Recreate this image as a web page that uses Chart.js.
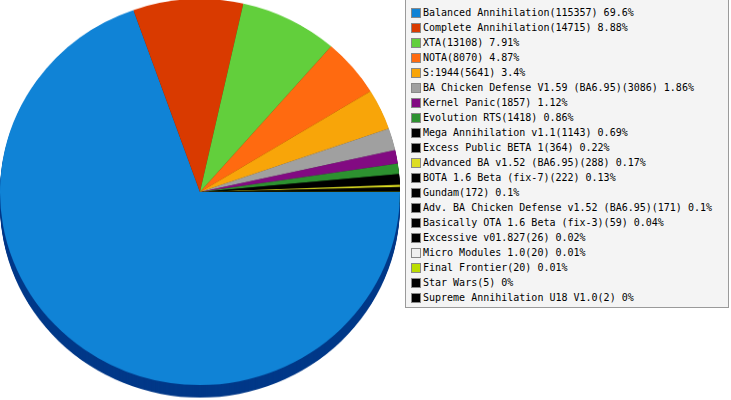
<!DOCTYPE html>
<html>
<head>
<meta charset="utf-8">
<script src="https://cdn.jsdelivr.net/npm/chart.js@4"></script>
<style>
  body { margin: 0; width: 731px; height: 400px; background: #fff; overflow: hidden; position: relative; }
  #pieWrap { position: absolute; left: 0; top: -1px; width: 400px; height: 414px; transform: scaleY(0.965); transform-origin: top center; }
  #legend { position: absolute; left: 405px; top: -1px; width: 324px; height: 309px; background: #f4f4f4; border: 1px solid #9a9a9a; box-sizing: border-box;
    font-family: "DejaVu Sans Mono", monospace; font-size: 10px; color: #000; padding-top: 5px; }
  .row { height: 15px; line-height: 15px; white-space: nowrap; position: relative; padding-left: 17px; }
  .sw { position: absolute; left: 5px; top: 3px; width: 8px; height: 8px; border: 1px solid #888; }
</style>
</head>
<body>
<div id="pieWrap"><canvas id="pie"></canvas></div>
<div id="legend"></div>
<script>
const mods = [
  "Balanced Annihilation", "Complete Annihilation", "XTA", "NOTA", "S:1944",
  "BA Chicken Defense V1.59 (BA6.95)", "Kernel Panic", "Evolution RTS",
  "Mega Annihilation v1.1", "Excess Public BETA 1", "Advanced BA v1.52 (BA6.95)",
  "BOTA 1.6 Beta (fix-7)", "Gundam", "Adv. BA Chicken Defense v1.52 (BA6.95)",
  "Basically OTA 1.6 Beta (fix-3)", "Excessive v01.827", "Micro Modules 1.0",
  "Final Frontier", "Star Wars", "Supreme Annihilation U18 V1.0"
];
const games = [115357, 14715, 13108, 8070, 5641, 3086, 1857, 1418, 1143, 364, 288, 222, 172, 171, 59, 26, 20, 20, 5, 2];
const colors = [
  "#1083d6", "#d93a00", "#62cf3c", "#ff6a10", "#f8a509", "#a0a0a0", "#820a82", "#2d9130",
  "#000000", "#000000", "#dddd22", "#000000", "#000000", "#000000", "#000000", "#000000",
  "#f0f0f0", "#bbdd00", "#000000", "#000000"
];

const total = games.reduce((a, b) => a + b, 0);

// Legend
const legend = document.getElementById("legend");
mods.forEach((name, i) => {
  const pct = Math.round(games[i] / total * 10000) / 100;
  const row = document.createElement("div");
  row.className = "row";
  row.innerHTML = `<span class="sw" style="background:${colors[i]}"></span>`;
  row.appendChild(document.createTextNode(`${name}(${games[i]}) ${pct}%`));
  legend.appendChild(row);
});

function darken(hex, f) {
  const n = parseInt(hex.slice(1), 16);
  const r = Math.round(((n >> 16) & 255) * f);
  const g = Math.round(((n >> 8) & 255) * f);
  const b = Math.round((n & 255) * f);
  return `rgb(${r},${g},${b})`;
}

// fake 3D side: draw each slice shifted down in a darker shade
const depthPlugin = {
  id: "depth",
  beforeDatasetsDraw(chart) {
    const ctx = chart.ctx;
    const meta = chart.getDatasetMeta(0);
    const depth = 13;
    meta.data.forEach((arc, i) => {
      const p = arc.getProps(["x", "y", "startAngle", "endAngle", "outerRadius"], true);
      ctx.save();
      ctx.fillStyle = i === 0 ? "#003888" : darken(colors[i], 0.45);
      for (let d = depth; d > 0; d -= 1) {
        ctx.beginPath();
        ctx.moveTo(p.x, p.y + d);
        ctx.arc(p.x, p.y + d, p.outerRadius, p.startAngle, p.endAngle);
        ctx.closePath();
        ctx.fill();
      }
      ctx.restore();
    });
  }
};

new Chart(document.getElementById("pie"), {
  type: "pie",
  data: {
    labels: mods,
    datasets: [
      {
        data: games,
        backgroundColor: colors,
        borderWidth: 0,
        hoverOffset: 0,
      },
    ],
  },
  options: {
    responsive: true,
    maintainAspectRatio: false,
    animation: false,
    rotation: 90,
    layout: { padding: { top: 0, left: 0, right: 0, bottom: 14 } },
    plugins: {
      legend: { display: false },
      tooltip: { enabled: false },
    },
  },
  plugins: [depthPlugin],
});
</script>
</body>
</html>
